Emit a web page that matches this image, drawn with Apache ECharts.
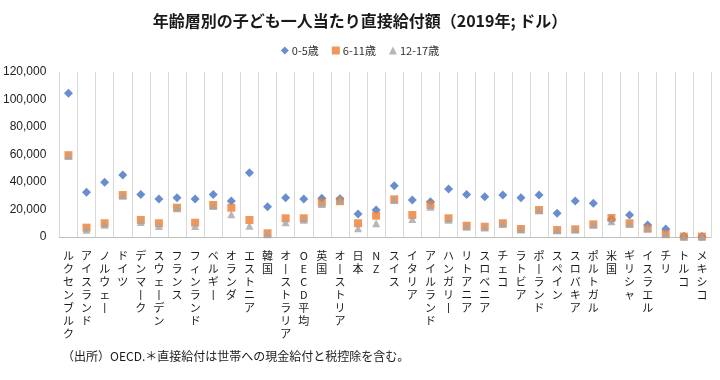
<!DOCTYPE html>
<html>
<head>
<meta charset="utf-8">
<script src="https://cdn.jsdelivr.net/npm/echarts@6/dist/echarts.min.js"></script>
<style>
html,body{margin:0;padding:0;background:#fff;}
#c{width:720px;height:380px;}
</style>
</head>
<body>
<div id="c"></div>
<script>
const categories = ['ルクセンブルク','アイスランド','ノルウェー','ドイツ','デンマーク','スウェーデン','フランス','フィンランド','ベルギー','オランダ','エストニア','韓国','オーストラリア','OECD平均','英国','オーストリア','日本','NZ','スイス','イタリア','アイルランド','ハンガリー','リトアニア','スロベニア','チェコ','ラトビア','ポーランド','スペイン','スロバキア','ポルトガル','米国','ギリシャ','イスラエル','チリ','トルコ','メキシコ'];
const age0to5 = [104500,32500,39800,45100,31000,27600,28600,27600,31000,26200,46800,22000,28600,27600,28100,27800,16700,19600,37300,26900,25700,34900,31000,29300,30500,28600,30500,17200,26200,24500,12800,16000,8700,5800,500,300];
const age6to11 = [59500,6800,10000,30500,12400,10000,21300,10400,23300,21300,12400,2700,13600,13600,25000,26000,10000,15500,27400,16000,23300,13600,8200,7500,10000,5800,19600,5100,5600,9200,13800,10000,6000,2200,300,300];
const age12to17 = [59000,5300,9000,30000,11000,8000,21000,8000,22500,16500,8200,2000,10700,12500,24000,27000,6300,10000,27000,13100,22000,12500,7500,7000,9500,5500,19500,5000,5500,9000,11500,9500,6500,2000,300,300];
const seriesNames = ['0-5歳','6-11歳','12-17歳'];
const yTicks = {min:0, max:120000, interval:20000};

const cjk = '"Noto Sans CJK JP", "Noto Sans", sans-serif';
const chart = echarts.init(document.getElementById('c'), null, {renderer:'canvas'});
function vert(s){
  return s.replace(/ー/g,'丨').split('').join('\n');
}
chart.setOption({
  animation:false,
  backgroundColor:'#ffffff',
  title:{
    text:'年齢層別の子ども一人当たり直接給付額（2019年; ドル）',
    left:'center', top:8,
    textStyle:{fontFamily:cjk, fontSize:16, fontWeight:'bold', color:'#1a1a1a'}
  },
  legend:{
    top:40, left:'center',
    itemWidth:8, itemHeight:8, itemGap:13,
    textStyle:{fontFamily:cjk, fontSize:11, color:'#333', padding:[0,0,0,-2]},
    data:[
      {name:seriesNames[0], icon:'diamond'},
      {name:seriesNames[1], icon:'rect'},
      {name:seriesNames[2], icon:'triangle'}
    ]
  },
  grid:{left:58, right:9, top:72, bottom:143},
  xAxis:{
    type:'category',
    data:categories,
    boundaryGap:true,
    axisLine:{show:true, lineStyle:{color:'#bfbfbf', width:1}},
    axisTick:{show:false},
    splitLine:{show:true, interval:0, lineStyle:{color:'#d9d9d9', width:1}},
    axisLabel:{
      interval:0, margin:12, fontFamily:cjk, fontSize:11, lineHeight:13,
      color:'#1a1a1a', verticalAlign:'top',
      formatter:function(v){return vert(v);}
    }
  },
  yAxis:{
    type:'value',
    min:yTicks.min, max:yTicks.max, interval:yTicks.interval,
    axisLine:{show:false}, axisTick:{show:false},
    splitLine:{show:false},
    axisLabel:{
      margin:13, fontFamily:'"Liberation Sans", "Noto Sans", sans-serif', fontSize:12, color:'#222',
      formatter:function(v){return v.toLocaleString('en-US');}
    }
  },
  series:[
    {name:seriesNames[0], type:'scatter', data:age0to5, symbol:'diamond', symbolSize:9,
     itemStyle:{color:'#4472C4'}, z:2},
    {name:seriesNames[1], type:'scatter', data:age6to11, symbol:'rect', symbolSize:8,
     itemStyle:{color:'#ED7D31'}, z:3},
    {name:seriesNames[2], type:'scatter', data:age12to17, symbol:'triangle', symbolSize:8,
     itemStyle:{color:'#A5A5A5'}, z:4}
  ],
  graphic:[{
    type:'text', left:62, top:350,
    style:{text:'（出所）OECD.＊直接給付は世帯への現金給付と税控除を含む。', fontFamily:cjk, fontSize:12, fill:'#1a1a1a'}
  }]
});
</script>
</body>
</html>
